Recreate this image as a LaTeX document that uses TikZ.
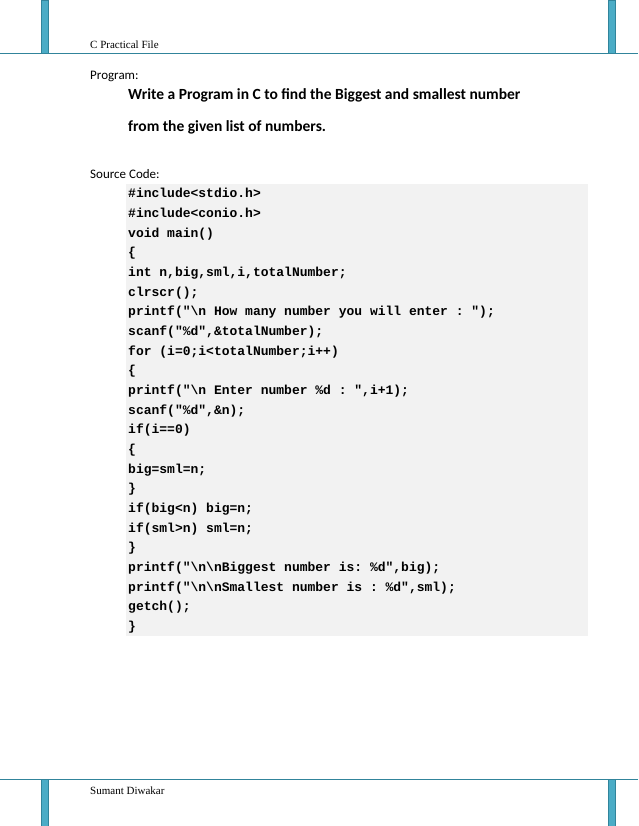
\documentclass[tikz,border=0pt]{standalone}
\usepackage{fontspec}
\setmainfont{Carlito}
\setmonofont{Liberation Mono}
\newfontfamily\hdrfont{Liberation Serif}
\definecolor{barfill}{HTML}{4BACC6}
\definecolor{baredge}{HTML}{31849B}
\definecolor{codebg}{HTML}{F2F2F2}
\begin{document}
\begin{tikzpicture}[x=1pt,y=-1pt,
  bar/.style={fill=barfill,draw=baredge,line width=0.8pt},
  rule/.style={draw=baredge,line width=0.9pt},
  hdr/.style={anchor=base west,inner sep=0pt,font=\hdrfont\fontsize{11}{12}\selectfont},
  body/.style={anchor=base west,inner sep=0pt,font=\fontsize{13}{14}\selectfont},
  ttl/.style={anchor=base west,inner sep=0pt,font=\bfseries\fontsize{15.5}{16}\selectfont},
  code/.style={anchor=base west,inner sep=0pt,font=\ttfamily\bfseries\fontsize{13}{14}\selectfont}]
\useasboundingbox[fill=white] (0,0) rectangle (638,826);
% header
\path[bar] (41.5,0) rectangle (48,53);
\path[bar] (608.5,0) rectangle (615,53);
\draw[rule] (0,53) -- (638,53);
\node[hdr] (h) at (90,49) {C Practical File};
% footer
\path[bar] (41.5,779) rectangle (48,826);
\path[bar] (608.5,779) rectangle (615,826);
\draw[rule] (0,779) -- (638,779);
\node[hdr] (f) at (90,794) {Sumant Diwakar};
% text
\node[body] (p) at (90,80) {Program:};
\node[ttl] (t1) at (128,100) {Write a Program in C to find the Biggest and smallest number};
\node[ttl] (t2) at (128,132) {from the given list of numbers.};
\node[body] (s) at (90,179) {Source Code:};
\fill[codebg] (126,184) rectangle (588,636);
\foreach \i/\t in {0/{\#include<stdio.h>},1/{\#include<conio.h>},2/{void main()},3/{\{},
 4/{int n,big,sml,i,totalNumber;},5/{clrscr();},
 6/{printf("\textbackslash n How many number you will enter : ");},
 7/{scanf("\%d",\&totalNumber);},8/{for (i=0;i<totalNumber;i++)},9/{\{},
 10/{printf("\textbackslash n Enter number \%d : ",i+1);},11/{scanf("\%d",\&n);},
 12/{if(i==0)},13/{\{},14/{big=sml=n;},15/{\}},16/{if(big<n) big=n;},17/{if(sml>n) sml=n;},
 18/{\}},19/{printf("\textbackslash n\textbackslash nBiggest number is: \%d",big);},
 20/{printf("\textbackslash n\textbackslash nSmallest number is : \%d",sml);},
 21/{getch();},22/{\}}}
  \node[code] (c\i) at (128,{198+19.65*\i}) {\t};
\end{tikzpicture}
\end{document}
